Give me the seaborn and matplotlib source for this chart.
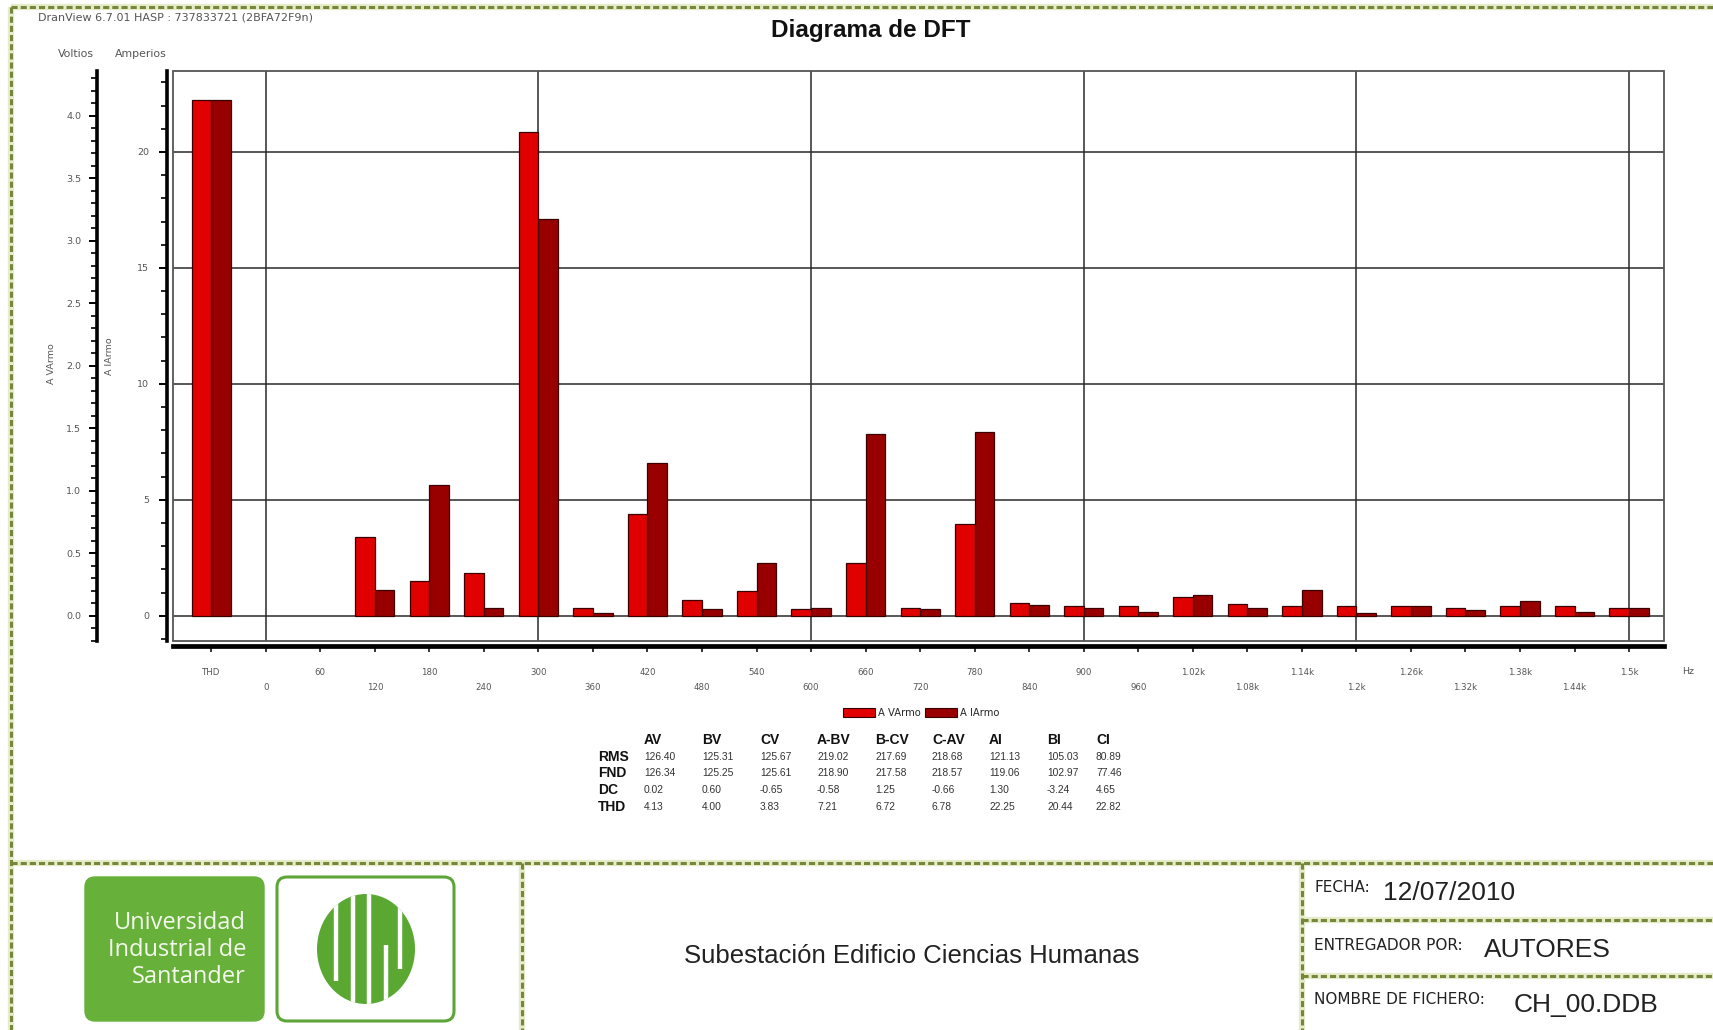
import numpy as np
import pandas as pd
import matplotlib
matplotlib.use("Agg")
import matplotlib.pyplot as plt
import seaborn as sns
from matplotlib.patches import Rectangle, FancyBboxPatch, Ellipse, Patch
from matplotlib.ticker import MultipleLocator

# ---------------- datos ----------------
freq_labels = ["THD", "0", "60", "120", "180", "240", "300", "360", "420", "480",
               "540", "600", "660", "720", "780", "840", "900", "960", "1.02k",
               "1.08k", "1.14k", "1.2k", "1.26k", "1.32k", "1.38k", "1.44k", "1.5k"]

harm_labels = ["THD", "120", "180", "240", "300", "360", "420", "480", "540",
               "600", "660", "720", "780", "840", "900", "960", "1.02k", "1.08k",
               "1.14k", "1.2k", "1.26k", "1.32k", "1.38k", "1.44k", "1.5k"]

# tensión armónica fase A (V)
a_varmo = [4.13, 0.63, 0.28, 0.34, 3.87, 0.065, 0.815, 0.125, 0.20,
           0.056, 0.42, 0.064, 0.73, 0.10, 0.075, 0.075, 0.15, 0.09,
           0.075, 0.075, 0.075, 0.06, 0.075, 0.075, 0.06]

# corriente armónica fase A (A)
a_iarmo = [22.25, 1.10, 5.63, 0.35, 17.09, 0.13, 6.58, 0.30, 2.28,
           0.35, 7.84, 0.30, 7.93, 0.45, 0.32, 0.18, 0.90, 0.32,
           1.10, 0.11, 0.40, 0.25, 0.63, 0.18, 0.32]

series_names = ["A VArmo", "A IArmo"]
series_colors = ["#e10000", "#980000"]

volt_ticks = [0.0, 0.5, 1.0, 1.5, 2.0, 2.5, 3.0, 3.5, 4.0]
amp_ticks = [0, 5, 10, 15, 20]

stat_cols = ["AV", "BV", "CV", "A-BV", "B-CV", "C-AV", "AI", "BI", "CI"]
stat_rows = ["RMS", "FND", "DC", "THD"]
rms_vals = [126.40, 125.31, 125.67, 219.02, 217.69, 218.68, 121.13, 105.03, 80.89]
fnd_vals = [126.34, 125.25, 125.61, 218.90, 217.58, 218.57, 119.06, 102.97, 77.46]
dc_vals = [0.02, 0.60, -0.65, -0.58, 1.25, -0.66, 1.30, -3.24, 4.65]
thd_vals = [4.13, 4.00, 3.83, 7.21, 6.72, 6.78, 22.25, 20.44, 22.82]

# ---------------- figura ----------------
sns.set_theme(style="white")
plt.rcParams["font.family"] = ["Liberation Sans", "DejaVu Sans"]

W, H = 1713, 1030
fig = plt.figure(figsize=(W / 100, H / 100), dpi=100)
fig.patch.set_facecolor("white")


def rect_px(left, top, right, bottom):
    return [left / W, 1 - bottom / H, (right - left) / W, (bottom - top) / H]


# capa de fondo en píxeles para marcos, textos y logotipos
ax_bg = fig.add_axes([0, 0, 1, 1], zorder=0)
ax_bg.set_xlim(0, W)
ax_bg.set_ylim(H, 0)
ax_bg.axis("off")


def deco_line(x0, y0, x1, y1):
    ax_bg.plot([x0, x1], [y0, y1], color="#e6ecc9", lw=4.5, solid_capstyle="butt", zorder=1)
    ax_bg.plot([x0, x1], [y0, y1], color="#76863a", lw=2.2, dashes=(2.0, 1.0),
               solid_capstyle="butt", zorder=2)


deco_line(11, 7, W, 7)
deco_line(11, 7, 11, H)
deco_line(11, 863, W, 863)
deco_line(522, 863, 522, H)
deco_line(1302, 863, 1302, H)
deco_line(1302, 920, W, 920)
deco_line(1302, 976, W, 976)

# ---------------- gráfico ----------------
plot_rect = rect_px(173, 71, 1664, 641)
ax_i = fig.add_axes(plot_rect, zorder=2)
ax_v = fig.add_axes(plot_rect, zorder=3, facecolor="none")

df_v = pd.DataFrame({"armonico": harm_labels, "valor": a_varmo, "serie": series_names[0]})
df_i = pd.DataFrame({"armonico": harm_labels, "valor": a_iarmo, "serie": series_names[1]})
palette = dict(zip(series_names, series_colors))

common = dict(x="armonico", y="valor", hue="serie", hue_order=series_names,
              order=freq_labels, palette=palette, dodge=True, width=0.72,
              errorbar=None, edgecolor="#3a0000", linewidth=0.9, legend=False,
              saturation=1)
sns.barplot(data=df_i, ax=ax_i, zorder=3, **common)
sns.barplot(data=df_v, ax=ax_v, zorder=3, **common)

amp_lim = (-1.09, 23.49)
ratio = 5.39
ax_i.set_ylim(*amp_lim)
ax_v.set_ylim(amp_lim[0] / ratio, amp_lim[1] / ratio)
xlim = (-0.70, 26.64)
ax_i.set_xlim(*xlim)
ax_v.set_xlim(*xlim)

# rejilla
for y in amp_ticks:
    ax_i.axhline(y, color="#2a2a2a", lw=1.1, zorder=1)
for k, lab in enumerate(freq_labels):
    if lab in ("0", "300", "600", "900", "1.2k", "1.5k"):
        ax_i.axvline(k, color="#2a2a2a", lw=1.1, zorder=1)

# marco del área de trazado
ax_i.add_patch(Rectangle((0, 0), 1, 1, transform=ax_i.transAxes, fill=False,
                         edgecolor="#555555", lw=1.3, clip_on=False, zorder=5))

# eje de corriente
for s in ("top", "right"):
    ax_i.spines[s].set_visible(False)
ax_i.spines["left"].set_position(("outward", 4.3))
ax_i.spines["left"].set_linewidth(2.6)
ax_i.spines["left"].set_color("black")
ax_i.spines["bottom"].set_position(("outward", 3.6))
ax_i.spines["bottom"].set_linewidth(3.4)
ax_i.spines["bottom"].set_color("black")
ax_i.set_yticks(amp_ticks)
ax_i.set_yticklabels([str(t) for t in amp_ticks])
ax_i.yaxis.set_minor_locator(MultipleLocator(1))
ax_i.tick_params(axis="y", which="major", left=True, length=6, width=1.4,
                 color="black", labelsize=6.8, labelcolor="#555555", pad=7)
ax_i.tick_params(axis="y", which="minor", left=True, length=4, width=1.2, color="black")
ax_i.set_ylabel("")
ax_i.set_xlabel("")

xt = [lab if k % 2 == 0 else "\n" + lab for k, lab in enumerate(freq_labels)]
ax_i.set_xticks(range(len(freq_labels)))
ax_i.set_xticklabels(xt)
ax_i.tick_params(axis="x", which="major", bottom=True, length=4, width=1.1,
                 color="black", labelsize=6.2, labelcolor="#555555", pad=11.5)
for t in ax_i.get_xticklabels():
    t.set_linespacing(1.9)
    t.set_fontfamily("DejaVu Sans")

# eje de tensión
for s in ("top", "right", "bottom"):
    ax_v.spines[s].set_visible(False)
ax_v.spines["left"].set_position(("outward", 55))
ax_v.spines["left"].set_linewidth(2.6)
ax_v.spines["left"].set_color("black")
ax_v.set_yticks(volt_ticks)
ax_v.set_yticklabels([f"{t:.1f}" for t in volt_ticks])
ax_v.yaxis.set_minor_locator(MultipleLocator(0.1))
ax_v.tick_params(axis="y", which="major", left=True, length=6, width=1.4,
                 color="black", labelsize=6.8, labelcolor="#555555", pad=5)
ax_v.tick_params(axis="y", which="minor", left=True, length=4, width=1.2, color="black")
ax_v.set_xticks([])
ax_v.set_ylabel("")
ax_v.set_xlabel("")
ax_v.grid(False)
ax_i.grid(False)

for t in ax_i.get_yticklabels() + ax_v.get_yticklabels():
    t.set_fontfamily("DejaVu Sans")

# títulos y rótulos
ax_bg.text(871, 30, "Diagrama de DFT", ha="center", va="center", fontsize=17.5,
           fontweight="bold", color="#111111")
ax_bg.text(38, 17, "DranView 6.7.01 HASP : 737833721 (2BFA72F9n)", ha="left",
           va="center", fontsize=8, color="#555555", family="DejaVu Sans")
ax_bg.text(76, 54, "Voltios", ha="center", va="center", fontsize=7.8,
           color="#555555", family="DejaVu Sans")
ax_bg.text(141, 54, "Amperios", ha="center", va="center", fontsize=7.8,
           color="#555555", family="DejaVu Sans")
ax_bg.text(52, 364, "A VArmo", ha="center", va="center", rotation=90,
           fontsize=6.8, color="#555555", family="DejaVu Sans")
ax_bg.text(110, 356, "A IArmo", ha="center", va="center", rotation=90,
           fontsize=6.8, color="#555555", family="DejaVu Sans")
ax_bg.text(1688, 672, "Hz", ha="center", va="center", fontsize=6.8,
           color="#555555", family="DejaVu Sans")

# leyenda
handles = [Patch(facecolor=c, edgecolor="#3a0000", lw=0.8) for c in series_colors]
fig.legend(handles, series_names, loc="center", bbox_to_anchor=(921 / W, 1 - 713 / H),
           ncol=2, frameon=False, handlelength=3.2, handleheight=0.9,
           handletextpad=0.3, columnspacing=0.4, prop={"family": "DejaVu Sans", "size": 7.2})

# tabla de valores
col_x = [644, 702, 760, 817, 875, 932, 989, 1047, 1096]
row_y = [757, 773, 790, 807]
head_y = 740
row_x = 598
for cx, name in zip(col_x, stat_cols):
    ax_bg.text(cx, head_y, name, ha="left", va="center", fontsize=10,
               fontweight="bold", color="#111111")
for ry, name, vals in zip(row_y, stat_rows, [rms_vals, fnd_vals, dc_vals, thd_vals]):
    ax_bg.text(row_x, ry, name, ha="left", va="center", fontsize=10,
               fontweight="bold", color="#111111")
    for cx, v in zip(col_x, vals):
        ax_bg.text(cx, ry, f"{v:.2f}", ha="left", va="center", fontsize=7.4,
                   color="#333333")

# logotipos
green = "#67b13b"
ax_bg.add_patch(FancyBboxPatch((85, 877), 179, 144, boxstyle="round,pad=0,rounding_size=10",
                               facecolor=green, edgecolor=green, lw=1))
for yy, txt in zip([923, 950, 977], ["Universidad", "Industrial de", "Santander"]):
    ax_bg.text(246, yy, txt, ha="right", va="center", fontsize=17, color="#f4f8ee",
               family="Open Sans")
ax_bg.add_patch(FancyBboxPatch((277, 877), 177, 144, boxstyle="round,pad=0,rounding_size=10",
                               facecolor="white", edgecolor="#5ea537", lw=2.2))
cx, cy = 366, 949
emb = Ellipse((cx, cy), 98, 110, facecolor="#5aa832", edgecolor="none")
ax_bg.add_patch(emb)
stripes = [
    ((cx - 30, cx - 30), (cy - 60, cy + 32)),
    ((cx - 13, cx - 13), (cy - 60, cy + 60)),
    ((cx + 3, cx + 3), (cy - 60, cy + 60)),
    ((cx + 20, cx + 20), (cy - 4, cy + 60)),
    ((cx + 34, cx + 34), (cy - 60, cy + 20)),
]
for xs, ys in stripes:
    ln, = ax_bg.plot(xs, ys, color="white", lw=3.2, solid_capstyle="butt", zorder=3)
    ln.set_clip_path(emb)

ax_bg.text(912, 956, "Subestación Edificio Ciencias Humanas", ha="center", va="center",
           fontsize=18.5, color="#222222")

info = [(890, "FECHA:", "12/07/2010", 1383),
        (947, "ENTREGADOR POR:", "AUTORES", 1484),
        (1002, "NOMBRE DE FICHERO:", "CH_00.DDB", 1514)]
for yy, lab, val, vx in info:
    ax_bg.text(1314, yy - 2, lab, ha="left", va="center", fontsize=11, color="#222222",
               family="DejaVu Sans")
    ax_bg.text(vx, yy + 3, val, ha="left", va="center", fontsize=19, color="#222222")

fig.savefig("out.png", dpi=100, facecolor="white")
